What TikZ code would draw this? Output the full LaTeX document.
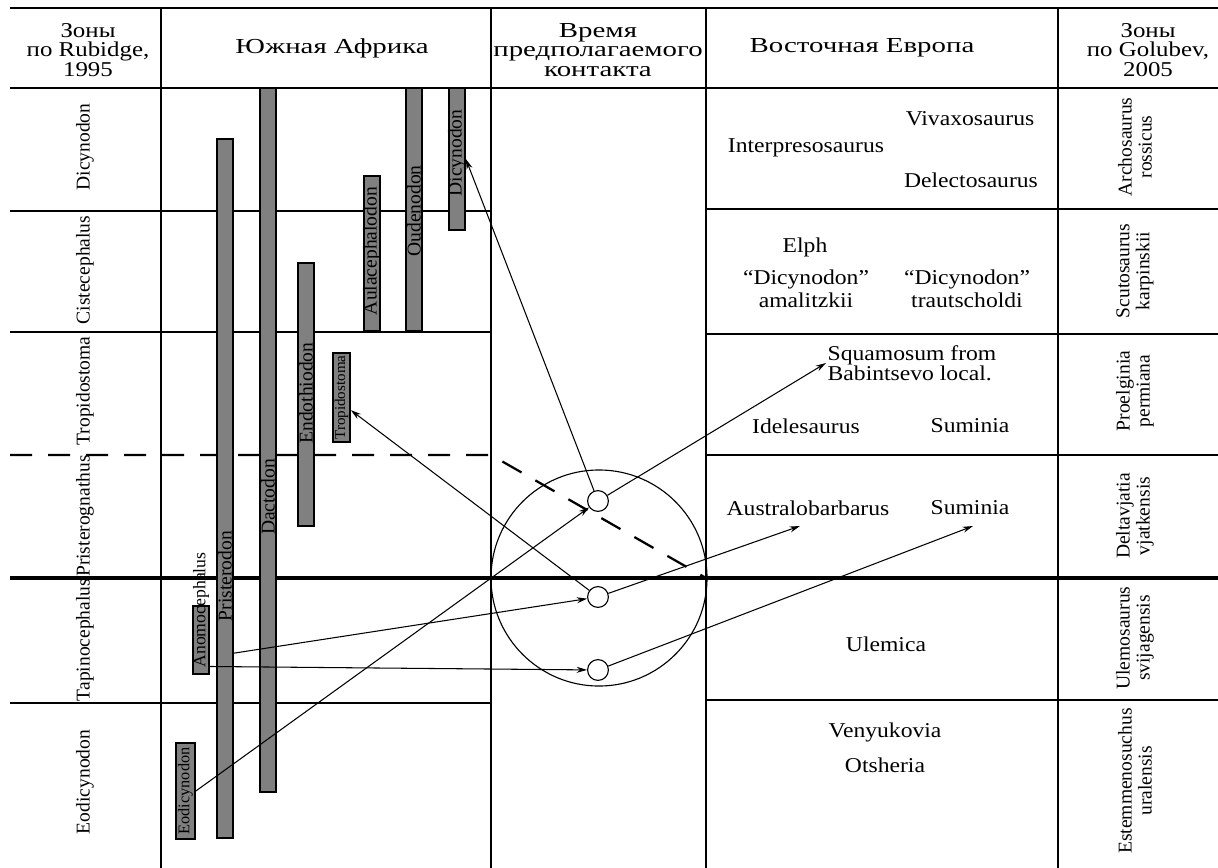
\documentclass[tikz,border=0pt]{standalone}
\usepackage{fontspec}
\setmainfont{Liberation Serif}
\newfontfamily\widefont[FakeStretch=1.12]{Liberation Serif}
\newfontfamily\headfont[FakeStretch=1.35]{Liberation Serif}
\newfontfamily\zonefont[FakeStretch=1.18]{Liberation Serif}
\usetikzlibrary{arrows.meta, fit, calc}

\begin{document}
\begin{tikzpicture}[
  x=0.025cm, y=-0.025cm,
  tline/.style={draw=black, line width=1.5pt},
  thline/.style={draw=black, line width=2.3pt},
  tratt/.style={draw=black, line width=1.6pt, dash pattern=on 0.55cm off 0.4cm},
  barra/.style={draw=black, fill=black!50, line width=1.2pt, inner sep=0pt},
  testo/.style={font=\widefont\fontsize{15}{16}\selectfont, inner sep=1pt, align=center},
  testata/.style={font=\headfont\fontsize{15.2}{13.9}\selectfont, inner sep=1pt, align=center},
  testzona/.style={font=\zonefont\fontsize{15}{13.9}\selectfont, inner sep=1pt, align=center},
  vert/.style={rotate=90, font=\fontsize{13.9}{14.2}\selectfont, inner sep=1pt, align=center},
  cerchio/.style={circle, draw=black, line width=0.8pt, minimum size=0.52cm, inner sep=0pt},
  freccia/.style={draw=black, line width=0.75pt, -{Stealth[length=0.26cm, width=0.15cm]}}
]
\useasboundingbox (0,0) rectangle (1218,868);

%--------------------------------------------------------------
% Griglia della tabella
%--------------------------------------------------------------
\draw[tline, line width=2pt] (10,8) -- (1218,8);
\draw[tline, line width=2pt] (10,88) -- (1218,88);
\foreach \x in {161,491,706,1058}
  \draw[tline] (\x,8) -- (\x,868);
\foreach \y in {211,332,703}
  \draw[tline] (10,\y) -- (491,\y);
\foreach \y in {209,334,455,700}
  \draw[tline] (706,\y) -- (1218,\y);
\draw[thline] (10,578) -- (1218,578);
\draw[tratt] (10,455) -- (491,455) -- (706,578);

%--------------------------------------------------------------
% Intestazione
%--------------------------------------------------------------
\node[testzona] (hrub) at (88,50) {Зоны\\по Rubidge,\\1995};
\node[testata] (hafr) at (332,48) {Южная Африка};
\node[testata] (htempo) at (598,50) {Время\\предполагаемого\\контакта};
\node[testata] (heur) at (862,48) {Восточная Европа};
\node[testzona] (hgol) at (1148,50) {Зоны\\по Golubev,\\2005};

%--------------------------------------------------------------
% Zone di Rubidge e di Golubev
%--------------------------------------------------------------
\foreach \n/\y/\testo in {1/147/Dicynodon, 2/270/Cistecephalus,
  3/391/Tropidostoma, 4/516/Pristerognathus, 5/640/Tapinocephalus,
  6/782/Eodicynodon}
  \node[vert] (zr\n) at (85,\y) {\testo};

\foreach \n/\y/\testo in {1/147/{Archosaurus\\rossicus},
  2/271/{Scutosaurus\\karpinskii}, 3/391/{Proelginia\\permiana},
  4/516/{Deltavjatia\\vjatkensis}, 5/638/{Ulemosaurus\\svijagensis},
  6/781/{Estemmenosuchus\\uralensis}}
  \node[vert] (zg\n) at (1135,\y) {\testo};

%--------------------------------------------------------------
% Europa orientale
%--------------------------------------------------------------
\node[testo] (vivax) at (970,119) {Vivaxosaurus};
\node[testo] (interp) at (806,148) {Interpresosaurus};
\node[testo] (delect) at (971,180) {Delectosaurus};
\node[testo] (elph) at (805,247) {Elph};
\node[testo] (amal) at (806,289) {“Dicynodon”\\amalitzkii};
\node[testo] (traut) at (967,289) {“Dicynodon”\\trautscholdi};
\node[testo, align=left, anchor=west, font=\widefont\fontsize{15}{14}\selectfont]
  (squam) at (826,363) {Squamosum from\\Babintsevo local.};
\node[testo] (idele) at (806,426) {Idelesaurus};
\node[testo] (sumin1) at (970,426) {Suminia};
\node[testo] (austral) at (808,508) {Australobarbarus};
\node[testo] (sumin2) at (970,508) {Suminia};
\node[testo] (ulem) at (886,644) {Ulemica};
\node[testo] (venyuk) at (885,732) {Venyukovia};
\node[testo] (otsh) at (885,765) {Otsheria};

\coordinate (tipaus) at (800,526);
\coordinate (tipsum) at (973,526);

%--------------------------------------------------------------
% Tempo del contatto
%--------------------------------------------------------------
\node[cerchio, minimum size=5.4cm] (contatto) at (599,578) {};
\node[cerchio] (c1) at (598,501) {};
\node[cerchio] (c2) at (598,597) {};
\node[cerchio] (c3) at (598,670) {};

%--------------------------------------------------------------
% Intervalli dei taxa sudafricani
%--------------------------------------------------------------
\foreach \nome/\xa/\ya/\xb/\yb in {pristerodon/217/139/233/838,
  dactodon/260/88/276/792, endothiodon/298/263/314/526,
  aulaceph/364/176/380/331, oudenodon/406/88/422/331,
  dicybar/449/88/465/230, tropbox/333/353/350/442,
  anomo/193/606/209/674, eodi/176/743/195/839}
  \node[barra, fit={(\xa,\ya) (\xb,\yb)}] (\nome) {};

\foreach \nome/\x/\y/\testo in {pristerodon/225/576/Pristerodon,
  dactodon/268/497/Dactodon, endothiodon/306/393/Endothiodon,
  aulaceph/372/251/Aulacephalodon, oudenodon/414/211/Oudenodon,
  dicybar/457/153/Dicynodon}
  \node[vert, inner sep=0pt] (lab\nome) at (\x,\y) {\testo};

\node[vert, inner sep=0pt, font=\fontsize{10.7}{11}\selectfont]
  (labtrop) at (tropbox.center) {Tropidostoma};
\node[vert, inner sep=0pt, font=\fontsize{12.6}{13}\selectfont]
  (labanomo) at (201,610) {Anomocephalus};
\node[vert, inner sep=0pt, font=\fontsize{11.6}{12}\selectfont]
  (labeodi) at (eodi.center) {Eodicynodon};

%--------------------------------------------------------------
% Frecce di correlazione
%--------------------------------------------------------------
\draw[freccia] (eodi.east) -- (c1);
\draw[freccia] ($(pristerodon.north east)!0.735!(pristerodon.south east)$) -- (c2);
\draw[freccia] ($(anomo.north east)!0.88!(anomo.south east)$) -- (c3);
\draw[freccia] (c2) -- ($(tropbox.north east)!0.64!(tropbox.south east)$);
\draw[freccia] (c1) -- (dicybar.east);
\draw[freccia] (c1) -- (squam.west);
\draw[freccia] (c2) -- (tipaus);
\draw[freccia] (c3) -- (tipsum);

\end{tikzpicture}
\end{document}
